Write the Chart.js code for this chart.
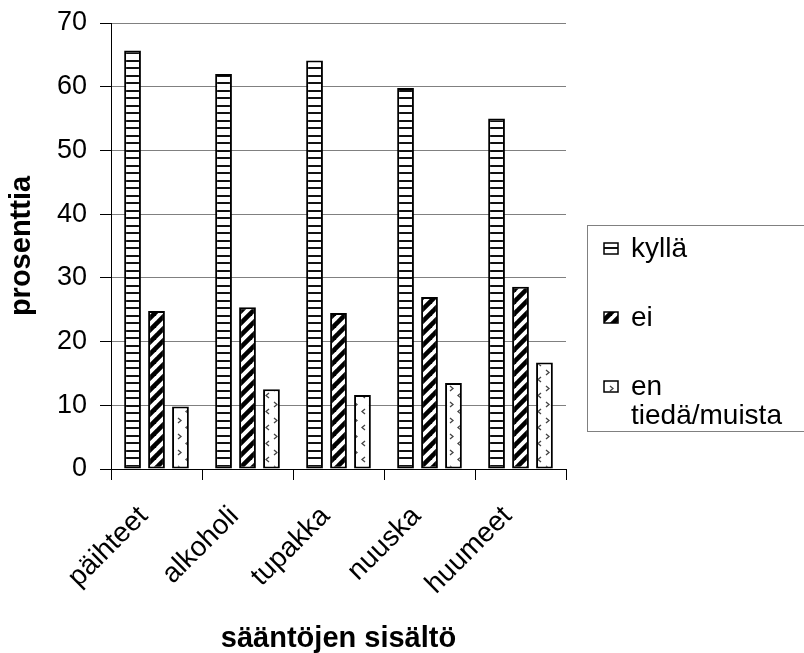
<!DOCTYPE html>
<html><head><meta charset="utf-8">
<script src="https://cdn.jsdelivr.net/npm/chart.js@4/dist/chart.umd.min.js"></script>
<style>html,body{margin:0;padding:0;background:#fff;}canvas{display:block;}</style>
</head><body>
<canvas id="c" width="804" height="653"></canvas>
<script>
const categories = ['päihteet', 'alkoholi', 'tupakka', 'nuuska', 'huumeet'];
const seriesNames = ['kyllä', 'ei', 'en tiedä/muista'];
const kylla = [65.7, 62.0, 64.1, 59.8, 55.0];
const ei = [24.8, 25.4, 24.5, 27.0, 28.6];
const enTieda = [9.8, 12.5, 11.6, 13.5, 16.7];
const yTicks = [0, 10, 20, 30, 40, 50, 60, 70];
const xTitle = 'sääntöjen sisältö';
const yTitle = 'prosenttia';

const FONT = '"Liberation Sans", Arial, sans-serif';

function mkTile(w, h, draw) {
  const c = document.createElement('canvas');
  c.width = w; c.height = h;
  const g = c.getContext('2d');
  g.fillStyle = '#fff'; g.fillRect(0, 0, w, h);
  draw(g);
  return c;
}
const stripeTile = mkTile(8, 15, g => {
  g.fillStyle = '#111';
  g.fillRect(0, 0, 8, 2);
  g.fillRect(0, 7, 8, 2);
});
const diagTile = mkTile(12, 12, g => {
  g.strokeStyle = '#000'; g.lineWidth = 4.6;
  for (const c of [-12, 0, 12, 24, 36]) {
    g.beginPath(); g.moveTo(c - 20, 20); g.lineTo(c + 20, -20); g.stroke();
  }
});
const dotTile = mkTile(16, 16, g => {
  g.strokeStyle = '#444'; g.lineWidth = 1.3;
  g.beginPath(); g.moveTo(2, 2); g.lineTo(5, 4.5); g.lineTo(2, 7); g.stroke();
  g.beginPath(); g.moveTo(13, 9); g.lineTo(10, 11.5); g.lineTo(13, 14); g.stroke();
});
const ctx = document.getElementById('c').getContext('2d');
const pStripe = ctx.createPattern(stripeTile, 'repeat');
const pDiag = ctx.createPattern(diagTile, 'repeat');
const pDot = ctx.createPattern(dotTile, 'repeat');
const patterns = [pStripe, pDiag, pDot];

const legendPlugin = {
  id: 'customLegend',
  afterDraw(chart) {
    const g = chart.ctx;
    g.save();
    g.strokeStyle = '#808080'; g.lineWidth = 1;
    g.strokeRect(587.5, 225.5, 230, 206);
    g.font = '28px ' + FONT;
    g.textBaseline = 'alphabetic';
    g.textAlign = 'left';
    const items = [
      { lines: ['kyllä'], y: 248 },
      { lines: ['ei'], y: 317 },
      { lines: ['en'], y: 386 }
    ];
    items[2].lines.push('tiedä/muista');
    items.forEach((it, i) => {
      g.fillStyle = patterns[i];
      g.fillRect(604, it.y - 5, 14, 11);
      g.strokeStyle = '#000'; g.lineWidth = 1.5;
      g.strokeRect(604, it.y - 5, 14, 11);
      g.fillStyle = '#000';
      it.lines.forEach((t, k) => g.fillText(t, 631, it.y + 9 + k * 29));
    });
    g.restore();
  }
};

new Chart(ctx, {
  type: 'bar',
  data: {
    labels: categories,
    datasets: [kylla, ei, enTieda].map((d, i) => ({
      label: seriesNames[i],
      data: d,
      backgroundColor: patterns[i],
      borderColor: '#000',
      borderWidth: 2,
      borderSkipped: false,
      categoryPercentage: 0.79,
      barPercentage: 0.7
    }))
  },
  options: {
    responsive: false,
    animation: false,
    devicePixelRatio: 1,
    layout: { padding: { top: 23, right: 238, bottom: 0, left: 0 } },
    plugins: { legend: { display: false }, tooltip: { enabled: false } },
    scales: {
      x: {
        offset: true,
        grid: { display: true, drawOnChartArea: false, drawTicks: true, tickLength: 11, color: '#000', offset: true },
        border: { color: '#000', width: 1 },
        ticks: { color: '#000', font: { family: FONT, size: 28 }, minRotation: 45, maxRotation: 45, padding: 20, labelOffset: -13 },
        title: { display: true, text: xTitle, color: '#000', font: { family: FONT, size: 29, weight: 'bold', lineHeight: 1.0 }, padding: { top: 0, bottom: 0 } },
        afterFit(s) { s.height = 653 - 469; s.paddingLeft = 0; s.paddingRight = 0; }
      },
      y: {
        min: 0, max: 70,
        afterBuildTicks(s) { s.ticks = yTicks.map(v => ({ value: v })); },
        grid: { color: '#808080', lineWidth: 1, tickLength: 11, tickColor: '#000', drawTicks: true },
        border: { color: '#000', width: 1 },
        ticks: { color: '#000', font: { family: FONT, size: 27 }, padding: 13 },
        title: { display: true, text: yTitle, color: '#000', font: { family: FONT, size: 29, weight: 'bold' }, padding: { top: 5, bottom: 0 } },
        afterFit(s) { s.width = 111; s.paddingTop = 0; s.paddingBottom = 0; }
      }
    }
  },
  plugins: [legendPlugin]
});
</script>
</body></html>
